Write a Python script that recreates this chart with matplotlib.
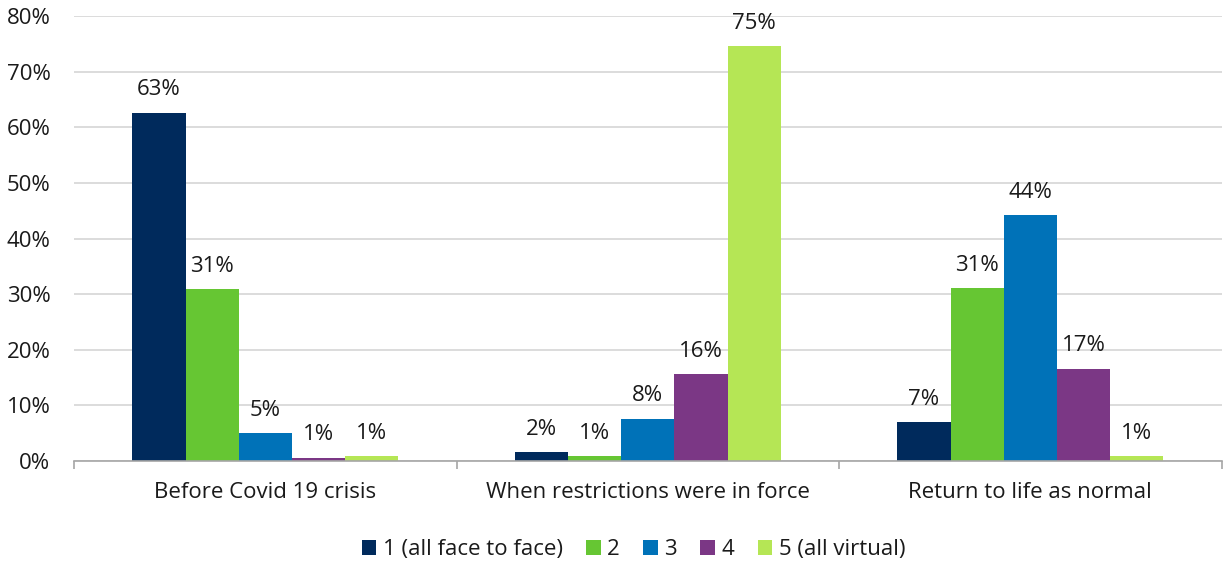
import matplotlib
matplotlib.use("Agg")
import matplotlib.pyplot as plt
import numpy as np
from matplotlib.ticker import FixedLocator, PercentFormatter

plt.rcParams['font.family'] = ['Open Sans', 'DejaVu Sans']

categories = ["Before Covid 19 crisis", "When restrictions were in force", "Return to life as normal"]
series_names = ["1 (all face to face)", "2", "3", "4", "5 (all virtual)"]
s1 = [62.6, 1.6, 7.0]
s2 = [30.9, 0.9, 31.1]
s3 = [5.0, 7.6, 44.2]
s4 = [0.6, 15.6, 16.6]
s5 = [0.9, 74.6, 0.9]
series = [s1, s2, s3, s4, s5]
colors = ["#002A5C", "#66C633", "#0072B8", "#7B3785", "#B5E655"]
yticks = [0, 10, 20, 30, 40, 50, 60, 70, 80]

FS = 16
TXT = "#1a1a1a"

fig = plt.figure(figsize=(12.24, 5.63), dpi=100)
ax = fig.add_axes([0.0605, 0.181, 0.9375, 0.7905])

x = np.arange(len(categories))
width = 0.139
offsets = (np.arange(len(series)) - 2) * width
for vals, name, col, off in zip(series, series_names, colors, offsets):
    bars = ax.bar(x + off, vals, width, color=col, label=name, zorder=3)
    for b, v in zip(bars, vals):
        ax.annotate(f"{v:.0f}%", (b.get_x() + b.get_width() / 2, v),
                    xytext=(0, 9), textcoords="offset points",
                    ha="center", va="bottom", fontsize=FS, color=TXT)

ax.set_xlim(-0.5, 2.5)
ax.set_ylim(0, 80)
ax.set_yticks(yticks)
ax.yaxis.set_major_formatter(PercentFormatter(decimals=0))
ax.tick_params(axis='y', length=0, labelsize=FS, pad=17, labelcolor=TXT)
ax.grid(axis='y', color="#d9d9d9", linewidth=1.3, zorder=0)

ax.set_xticks(x)
ax.set_xticklabels(categories)
ax.tick_params(axis='x', which='major', length=0, labelsize=FS, pad=15, labelcolor=TXT)
ax.xaxis.set_minor_locator(FixedLocator([-0.5, 0.5, 1.5, 2.5]))
ax.tick_params(axis='x', which='minor', length=6, color="#a6a6a6", width=1.2)

for side in ("left", "right", "top"):
    ax.spines[side].set_visible(False)
ax.spines["bottom"].set_color("#a6a6a6")
ax.spines["bottom"].set_linewidth(1.2)
ax.spines["bottom"].set_zorder(4)

fig.legend(loc="center", bbox_to_anchor=(0.5176, 0.024), ncol=5, frameon=False,
           fontsize=FS, handlelength=0.65, handleheight=0.65, handletextpad=0.3,
           columnspacing=1.05, labelcolor=TXT)

fig.savefig("out.png", dpi=100)
